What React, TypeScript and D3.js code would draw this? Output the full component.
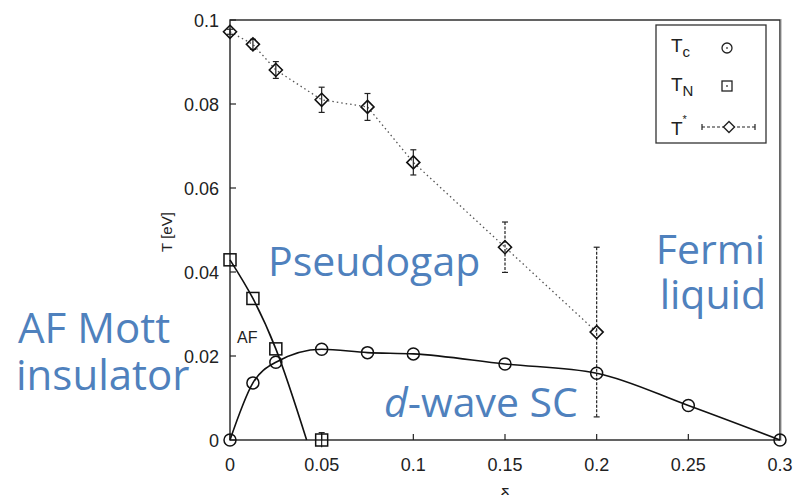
import React from "react";
import * as d3 from "d3";

// ---- data ----
const tcX = [0, 0.0125, 0.025, 0.05, 0.075, 0.1, 0.15, 0.2, 0.25, 0.3];
const tcY = [0, 0.0136, 0.0185, 0.0216, 0.0208, 0.0205, 0.0181, 0.0159, 0.0082, 0];

const tnX = [0, 0.0125, 0.025, 0.05];
const tnY = [0.0429, 0.0337, 0.0217, 0];
const tnErr = [0, 0, 0, 0.0008];
const tnFitX = [0, 0.0125, 0.025, 0.0418];
const tnFitY = [0.0429, 0.0337, 0.0217, 0];

const tsX = [0, 0.0125, 0.025, 0.05, 0.075, 0.1, 0.15, 0.2];
const tsY = [0.0972, 0.0942, 0.0881, 0.081, 0.0793, 0.0661, 0.0459, 0.0257];
const tsErr = [0.0006, 0.0012, 0.002, 0.003, 0.0032, 0.003, 0.006, 0.0202];

const xTicks = [0, 0.05, 0.1, 0.15, 0.2, 0.25, 0.3];
const xTickLabels = ["0", "0.05", "0.1", "0.15", "0.2", "0.25", "0.3"];
const yTicks = [0, 0.02, 0.04, 0.06, 0.08, 0.1];
const yTickLabels = ["0", "0.02", "0.04", "0.06", "0.08", "0.1"];

const BLUE = "#4F81BD";
const TICKFONT = "'Liberation Sans', Arial, sans-serif";
const NOTEFONT = "'Open Sans', 'Noto Sans', sans-serif";

export default function App() {
  const x = d3.scaleLinear().domain([0, 0.3]).range([230, 780]);
  const y = d3.scaleLinear().domain([0, 0.1]).range([440, 20]);

  const tcPts: [number, number][] = tcX.map((v, i) => [x(v), y(tcY[i])]);
  const tnFitPts: [number, number][] = tnFitX.map((v, i) => [x(v), y(tnFitY[i])]);
  const tsPts: [number, number][] = tsX.map((v, i) => [x(v), y(tsY[i])]);

  const curve = d3.line().curve(d3.curveMonotoneX);
  const straight = d3.line();

  const diamond = (cx: number, cy: number, s: number) =>
    `M${cx},${cy - s}L${cx + s},${cy}L${cx},${cy + s}L${cx - s},${cy}Z`;

  return (
    <svg
      width={795}
      height={495}
      style={{ position: "absolute", left: 0, top: 0, background: "#fff" }}
    >
      {/* frame */}
      <rect x={230} y={20} width={550} height={420} fill="none" stroke="#222" strokeWidth={1.4} />
      <line x1={781} y1={19} x2={781} y2={441} stroke="#999" strokeWidth={1} />

      {/* x ticks */}
      {xTicks.map((t, i) => (
        <g key={"xt" + i}>
          <line x1={x(t)} x2={x(t)} y1={440} y2={434} stroke="#222" strokeWidth={1.2} />
          <text x={x(t)} y={471} textAnchor="middle" fontFamily={TICKFONT} fontSize={18} fill="#222">
            {xTickLabels[i]}
          </text>
        </g>
      ))}
      {/* y ticks */}
      {yTicks.map((t, i) => (
        <g key={"yt" + i}>
          <line x1={230} x2={236} y1={y(t)} y2={y(t)} stroke="#222" strokeWidth={1.2} />
          <text x={219} y={y(t) + 6.5} textAnchor="end" fontFamily={TICKFONT} fontSize={18} fill="#222">
            {yTickLabels[i]}
          </text>
        </g>
      ))}

      {/* axis titles */}
      <text
        transform="translate(172,232) rotate(-90)"
        textAnchor="middle"
        fontFamily={TICKFONT}
        fontSize={15}
        fill="#222"
      >
        T [eV]
      </text>
      <text x={505} y={501} textAnchor="middle" fontFamily={TICKFONT} fontSize={18} fill="#222">
        δ
      </text>

      {/* T* dotted line */}
      <path d={straight(tsPts) || ""} fill="none" stroke="#555" strokeWidth={1.3} strokeDasharray="1.5,3" />

      {/* T* error bars */}
      {tsX.map((v, i) => {
        const cx = x(v);
        const y1 = y(tsY[i] + tsErr[i]);
        const y2 = y(tsY[i] - tsErr[i]);
        return (
          <g key={"te" + i} stroke="#222" strokeWidth={1.2}>
            <line x1={cx} x2={cx} y1={y1} y2={y2} strokeDasharray={tsErr[i] > 0.005 ? "3,1.5" : undefined} />
            <line x1={cx - 3} x2={cx + 3} y1={y1} y2={y1} />
            <line x1={cx - 3} x2={cx + 3} y1={y2} y2={y2} />
          </g>
        );
      })}

      {/* Tc curve */}
      <path d={curve(tcPts) || ""} fill="none" stroke="#111" strokeWidth={1.6} />
      {/* TN curve */}
      <path d={d3.line().curve(d3.curveCatmullRom.alpha(0.5))(tnFitPts) || ""} fill="none" stroke="#111" strokeWidth={1.6} />

      {/* Tc markers */}
      {tcPts.map((p, i) => (
        <circle key={"c" + i} cx={p[0]} cy={p[1]} r={6} fill="none" stroke="#111" strokeWidth={1.5} />
      ))}
      {/* TN markers */}
      {tnX.map((v, i) => {
        const cx = x(v);
        const cy = y(tnY[i]);
        return (
          <g key={"s" + i} stroke="#111" strokeWidth={1.5} fill="none">
            <rect x={cx - 6} y={cy - 6} width={12} height={12} />
            {tnErr[i] > 0 && (
              <g strokeWidth={1.1}>
                <line x1={cx} x2={cx} y1={y(tnY[i] + tnErr[i]) - 4} y2={y(tnY[i] - tnErr[i]) + 4} />
                <line x1={cx - 3} x2={cx + 3} y1={y(tnY[i] + tnErr[i]) - 4} y2={y(tnY[i] + tnErr[i]) - 4} />
              </g>
            )}
          </g>
        );
      })}
      {/* T* markers */}
      {tsPts.map((p, i) => (
        <path key={"d" + i} d={diamond(p[0], p[1], 6.5)} fill="none" stroke="#111" strokeWidth={1.6} />
      ))}

      {/* AF label */}
      <text x={237} y={343} fontFamily={TICKFONT} fontSize={16} fill="#222">AF</text>

      {/* legend */}
      <rect x={656} y={25} width={110} height={118} fill="#fff" stroke="#333" strokeWidth={1.3} />
      <text x={671} y={52} fontFamily={TICKFONT} fontSize={19} fill="#222">
        T<tspan fontSize={15} dy={5}>c</tspan>
      </text>
      <circle cx={727} cy={48} r={5} fill="none" stroke="#222" strokeWidth={1.3} />
      <circle cx={727} cy={48} r={0.9} fill="#444" />
      <text x={671} y={91} fontFamily={TICKFONT} fontSize={19} fill="#222">
        T<tspan fontSize={15} dy={5}>N</tspan>
      </text>
      <rect x={722} y={81} width={10} height={10} fill="none" stroke="#222" strokeWidth={1.3} />
      <circle cx={727} cy={86} r={0.9} fill="#444" />
      <text x={671} y={135} fontFamily={TICKFONT} fontSize={19} fill="#222">
        T<tspan fontSize={11} dy={-12}>*</tspan>
      </text>
      <g stroke="#222" strokeWidth={1.2}>
        <line x1={702} x2={755} y1={127} y2={127} strokeDasharray="3,2" />
        <line x1={702} x2={702} y1={124} y2={130} />
        <line x1={755} x2={755} y1={124} y2={130} />
      </g>
      <path d={diamond(729, 127, 5.5)} fill="#fff" stroke="#222" strokeWidth={1.4} />

      {/* annotations */}
      <g fontFamily={NOTEFONT} fontSize={41} fill={BLUE}>
        <text x={268} y={276}>Pseudogap</text>
        <text x={18} y={343} fontSize={42}>AF Mott</text>
        <text x={16} y={390} fontSize={42}>insulator</text>
        <text x={765} y={264} textAnchor="end">Fermi</text>
        <text x={766} y={309} textAnchor="end">liquid</text>
        <text x={384} y={417}>
          <tspan fontStyle="italic">d</tspan>-wave SC
        </text>
      </g>
    </svg>
  );
}
